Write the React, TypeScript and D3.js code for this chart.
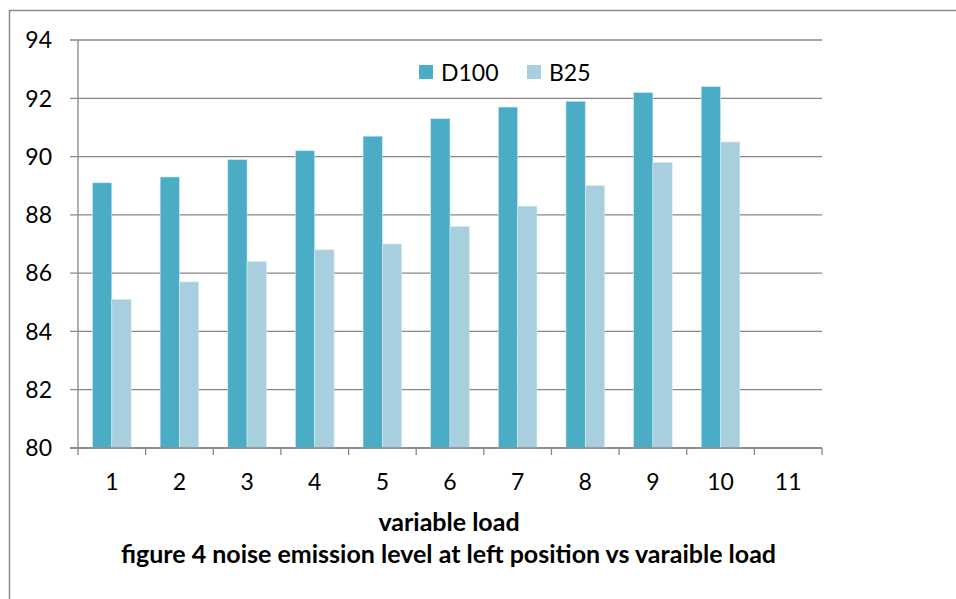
import React, { useEffect, useRef } from "react";
import * as d3 from "d3";

const categories = ["1", "2", "3", "4", "5", "6", "7", "8", "9", "10", "11"];
const seriesNames = ["D100", "B25"];
const d100 = [89.1, 89.3, 89.9, 90.2, 90.7, 91.3, 91.7, 91.9, 92.2, 92.4];
const b25 = [85.1, 85.7, 86.4, 86.8, 87.0, 87.6, 88.3, 89.0, 89.8, 90.5];
const yTicks = [80, 82, 84, 86, 88, 90, 92, 94];
const colors = ["#4BACC6", "#A8CFDD"];

const FONT = "Lato, 'Open Sans', sans-serif";

export default function App() {
  const svgRef = useRef<SVGSVGElement>(null);

  useEffect(() => {
    const svg = d3.select(svgRef.current);
    svg.selectAll("*").remove();

    const left = 78;
    const right = 822;
    const top = 40;
    const bottom = 448;

    const x = d3.scaleBand().domain(categories).range([left, right]).paddingInner(0).paddingOuter(0);
    const y = d3.scaleLinear().domain([80, 94]).range([bottom, top]);

    // bar width from excel-ish 150% gap
    const bw = x.bandwidth() / 3.5;
    const series = [d100, b25];

    // frame
    svg
      .append("rect")
      .attr("x", 9.5)
      .attr("y", 10.5)
      .attr("width", 1000)
      .attr("height", 1000)
      .attr("fill", "none")
      .attr("stroke", "#8a8a8a")
      .attr("stroke-width", 1.5);

    // gridlines
    svg
      .append("g")
      .selectAll("line")
      .data(yTicks)
      .join("line")
      .attr("x1", left - 8)
      .attr("x2", right)
      .attr("y1", (d) => y(d))
      .attr("y2", (d) => y(d))
      .attr("stroke", "#878787")
      .attr("stroke-width", 1.3);

    // bars
    series.forEach((vals, si) => {
      svg
        .append("g")
        .selectAll("rect")
        .data(vals)
        .join("rect")
        .attr("x", (_, i) => x(categories[i])! + x.bandwidth() / 2 - bw + si * bw)
        .attr("y", (d) => y(d))
        .attr("width", bw)
        .attr("height", (d) => y(80) - y(d))
        .attr("fill", colors[si])
        .attr("stroke", "#d6ecf2")
        .attr("stroke-width", 0.6);
    });

    // axes lines
    svg
      .append("line")
      .attr("x1", left)
      .attr("x2", left)
      .attr("y1", top)
      .attr("y2", bottom)
      .attr("stroke", "#878787")
      .attr("stroke-width", 1.3);
    svg
      .append("line")
      .attr("x1", left - 8)
      .attr("x2", right)
      .attr("y1", bottom)
      .attr("y2", bottom)
      .attr("stroke", "#878787")
      .attr("stroke-width", 1.3);

    // x ticks
    const xt = categories.map((c) => x(c)!).concat([right]);
    svg
      .append("g")
      .selectAll("line")
      .data(xt)
      .join("line")
      .attr("x1", (d) => d)
      .attr("x2", (d) => d)
      .attr("y1", bottom)
      .attr("y2", bottom + 7)
      .attr("stroke", "#878787")
      .attr("stroke-width", 1.3);

    // y tick labels
    svg
      .append("g")
      .selectAll("text")
      .data(yTicks)
      .join("text")
      .attr("x", 52)
      .attr("y", (d) => y(d))
      .attr("dy", "0.36em")
      .attr("text-anchor", "end")
      .style("font-family", FONT)
      .style("font-size", "23px")
      .style("fill", "#000")
      .text((d) => d);

    // x tick labels
    svg
      .append("g")
      .selectAll("text")
      .data(categories)
      .join("text")
      .attr("x", (d) => x(d)! + x.bandwidth() / 2)
      .attr("y", 490)
      .attr("text-anchor", "middle")
      .style("font-family", FONT)
      .style("font-size", "23px")
      .style("fill", "#000")
      .text((d) => d);

    // legend
    const legX = [419, 527];
    seriesNames.forEach((name, i) => {
      svg
        .append("rect")
        .attr("x", legX[i])
        .attr("y", 65)
        .attr("width", 14)
        .attr("height", 14)
        .attr("fill", colors[i]);
      svg
        .append("text")
        .attr("x", legX[i] + 22)
        .attr("y", 80.5)
        .style("font-family", FONT)
        .style("font-size", "23px")
        .style("fill", "#000")
        .text(name);
    });

    // axis title
    svg
      .append("text")
      .attr("x", 449)
      .attr("y", 531)
      .attr("text-anchor", "middle")
      .style("font-family", FONT)
      .style("font-size", "25px")
      .style("font-weight", "bold")
      .style("fill", "#000")
      .text("variable load");

    svg
      .append("text")
      .attr("x", 448.5)
      .attr("y", 563)
      .attr("text-anchor", "middle")
      .style("font-family", FONT)
      .style("font-size", "25px")
      .style("font-weight", "bold")
      .style("fill", "#000")
      .text("figure 4 noise emission level at left position vs varaible load");
  }, []);

  return (
    <svg
      ref={svgRef}
      width="956"
      height="599"
      style={{ position: "absolute", left: 0, top: 0, background: "#fff", overflow: "hidden" }}
    ></svg>
  );
}
